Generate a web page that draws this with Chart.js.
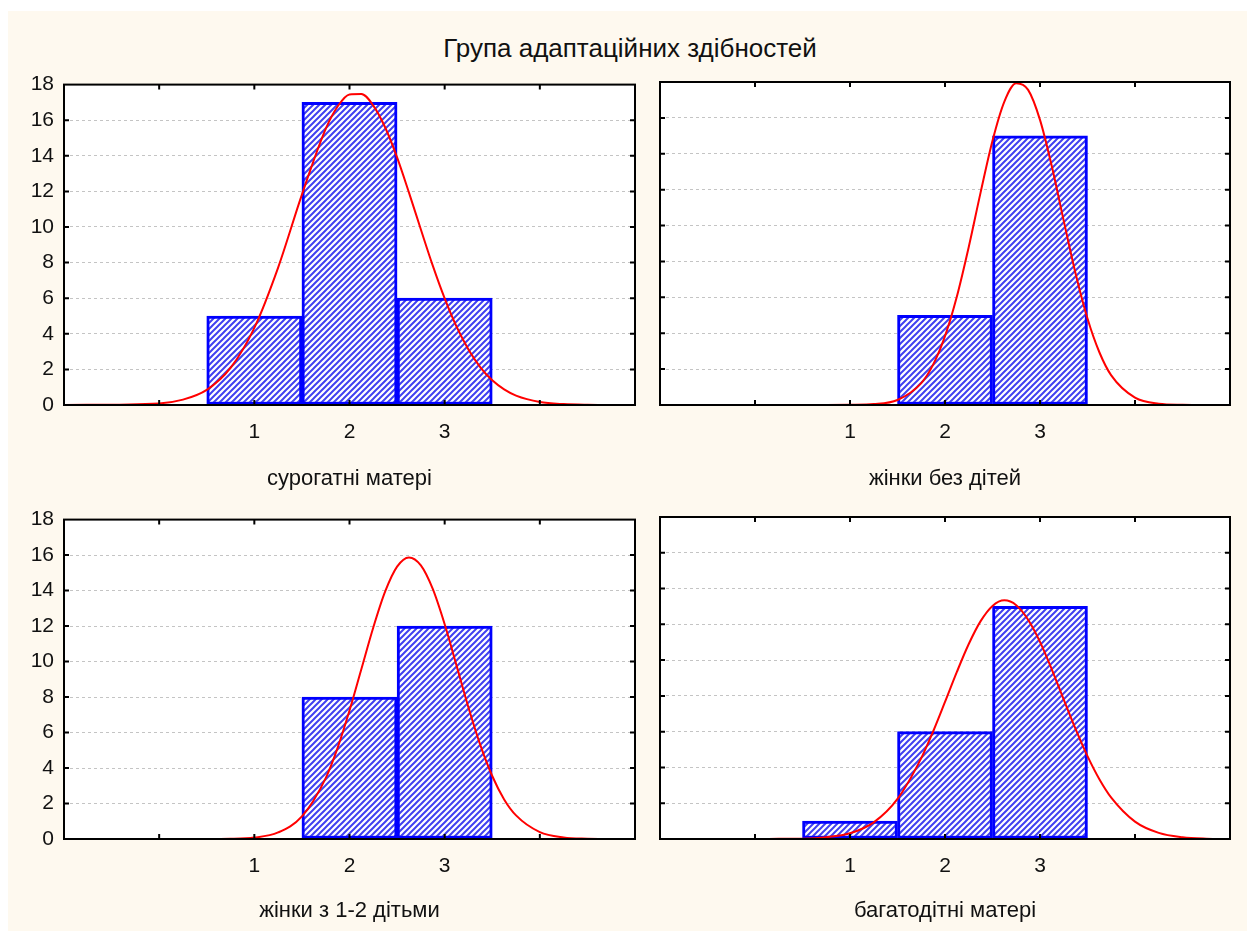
<!DOCTYPE html>
<html>
<head>
<meta charset="utf-8">
<script src="https://cdn.jsdelivr.net/npm/chart.js@4/dist/chart.umd.min.js"></script>
<style>
  html, body { margin: 0; padding: 0; background: #fff; overflow: hidden; }
  #bg { position: absolute; left: 8px; top: 11px; width: 1239px; height: 920px; background: #fef9ef; }
  #title { position: absolute; left: 130px; top: 33px; width: 1000px; text-align: center; line-height: 30px;
           font-size: 26px; font-family: "Liberation Sans", Arial, sans-serif; color: #111; }
  canvas { position: absolute; }
</style>
</head>
<body>
<div id="bg"></div>
<div id="title">Група адаптаційних здібностей</div>
<canvas id="p1" width="640" height="435" style="left:8px;top:62px"></canvas>
<canvas id="p2" width="599" height="435" style="left:648px;top:62px"></canvas>
<canvas id="p3" width="640" height="434" style="left:8px;top:497px"></canvas>
<canvas id="p4" width="599" height="434" style="left:648px;top:497px"></canvas>
<script>
// bins of the histogram
const binCenters = [1, 2, 3];
const countsSurrogate = [5, 17, 6];
const countsNoChildren = [null, 5, 15];
const countsOneTwo = [null, 8, 12];
const countsLarge = [1, 6, 13];

// fitted normal curves
const curveX = [-1, 0, 0.25, 0.5, 0.75, 1, 1.25, 1.5, 1.75, 1.875, 2, 2.125, 2.25, 2.375, 2.5,
  2.625, 2.75, 2.875, 3, 3.125, 3.25, 3.375, 3.5, 3.625, 3.75, 4, 4.25, 4.5, 4.75, 5];
const curveSurrogate = [0, 0.09, 0.30, 0.85, 2.08, 4.33, 7.72, 11.82, 15.51, 16.77, 17.45, 17.47, 16.82, 15.59, 13.91,
  11.93, 9.86, 7.83, 5.99, 4.40, 3.12, 2.12, 1.39, 0.88, 0.53, 0.17, 0.05, 0.01, 0, 0];
const curveNoChildren = [0, 0, 0, 0, 0, 0.01, 0.05, 0.28, 1.22, 2.25, 3.84, 6.05, 8.81, 11.85, 14.73,
  16.91, 17.93, 17.56, 15.89, 13.29, 10.26, 7.32, 4.82, 2.94, 1.65, 0.41, 0.07, 0.01, 0, 0];
const curveOneTwo = [0, 0, 0, 0, 0.01, 0.08, 0.37, 1.27, 3.43, 5.14, 7.24, 9.58, 11.92, 13.95, 15.35,
  15.87, 15.42, 14.09, 12.10, 9.77, 7.41, 5.29, 3.55, 2.23, 1.33, 0.39, 0.09, 0.02, 0, 0];
const curveLarge = [0, 0, 0.01, 0.02, 0.10, 0.32, 0.93, 2.24, 4.52, 6.01, 7.66, 9.34, 10.90, 12.18, 13.03,
  13.34, 13.07, 12.26, 11.02, 9.47, 7.79, 6.14, 4.63, 3.34, 2.31, 0.97, 0.34, 0.10, 0.02, 0];

const xLabels = [1, 2, 3];
const yMax = 18;

const FONT = '"Liberation Sans", Arial, sans-serif';

function hatch() {
  const c = document.createElement('canvas');
  c.width = 6; c.height = 6;
  const g = c.getContext('2d');
  g.fillStyle = '#ffffff';
  g.fillRect(0, 0, 6, 6);
  g.strokeStyle = '#4040f0';
  g.lineWidth = 2;
  g.beginPath();
  g.moveTo(-1, 7); g.lineTo(7, -1);
  g.moveTo(-4, 4); g.lineTo(4, -4);
  g.moveTo(2, 10); g.lineTo(10, 2);
  g.stroke();
  return g.createPattern(c, 'repeat');
}

const framePlugin = {
  id: 'frame',
  beforeDraw(chart) {
    const { ctx, chartArea: a } = chart;
    ctx.save();
    ctx.fillStyle = '#ffffff';
    ctx.fillRect(a.left, a.top, a.right - a.left, a.bottom - a.top);
    ctx.restore();
  },
  afterDraw(chart) {
    const { ctx, chartArea: a, scales } = chart;
    ctx.save();
    ctx.strokeStyle = '#000';
    ctx.lineWidth = 2;
    ctx.strokeRect(a.left, a.top, a.right - a.left, a.bottom - a.top);
    ctx.beginPath();
    scales.x.ticks.forEach(t => {
      if (t.value <= scales.x.min || t.value >= scales.x.max) return;
      const px = scales.x.getPixelForValue(t.value);
      ctx.moveTo(px, a.top); ctx.lineTo(px, a.top + 5);
      ctx.moveTo(px, a.bottom); ctx.lineTo(px, a.bottom - 5);
    });
    scales.y.ticks.forEach(t => {
      if (t.value <= scales.y.min || t.value >= scales.y.max) return;
      const py = scales.y.getPixelForValue(t.value);
      ctx.moveTo(a.left, py); ctx.lineTo(a.left + 5, py);
      ctx.moveTo(a.right, py); ctx.lineTo(a.right - 5, py);
    });
    ctx.stroke();
    ctx.restore();
  }
};

function panel(id, counts, curve, title, showY, rightPad, titlePad) {
  const pattern = hatch();
  return new Chart(document.getElementById(id), {
    type: 'bar',
    data: {
      datasets: [
        {
          type: 'line',
          order: 0,
          data: curveX.map((x, i) => ({ x: x, y: curve[i] })),
          borderColor: '#ff0000',
          borderWidth: 2,
          pointRadius: 0,
          cubicInterpolationMode: 'monotone',
          fill: false
        },
        {
          type: 'bar',
          order: 1,
          data: binCenters.map((x, i) => ({ x: x, y: counts[i] })),
          backgroundColor: pattern,
          borderColor: '#0000ff',
          borderWidth: 3,
          borderSkipped: false,
          barPercentage: 1,
          categoryPercentage: 1
        }
      ]
    },
    options: {
      responsive: false,
      animation: false,
      events: [],
      layout: { padding: { top: 20, right: rightPad, left: 0, bottom: 0 } },
      plugins: { legend: { display: false }, tooltip: { enabled: false } },
      scales: {
        x: {
          type: 'linear',
          min: -1,
          max: 5,
          offset: false,
          grid: { display: false, drawTicks: false, offset: false },
          border: { display: false },
          ticks: {
            stepSize: 1,
            padding: 11,
            color: '#111',
            font: { family: FONT, size: 21, lineHeight: 1.55 },
            callback: v => xLabels.includes(v) ? String(v) : ''
          },
          title: {
            display: true,
            text: title,
            color: '#111',
            font: { family: FONT, size: 22 },
            padding: { top: 0, bottom: titlePad }
          },
          afterFit: s => { s.height = 92; }
        },
        y: {
          min: 0,
          max: yMax,
          grid: { color: '#c4c4c4', lineWidth: 1, drawTicks: false },
          border: { display: false, dash: [3, 3] },
          ticks: {
            display: showY,
            stepSize: 2,
            padding: 10,
            color: '#111',
            font: { family: FONT, size: 21 }
          },
          afterFit: s => { s.width = showY ? 56 : 12; }
        }
      }
    },
    plugins: [framePlugin]
  });
}

panel('p1', countsSurrogate, curveSurrogate, 'сурогатні матері', true, 13, 5);
panel('p2', countsNoChildren, curveNoChildren, 'жінки без дітей', false, 17, 5);
panel('p3', countsOneTwo, curveOneTwo, 'жінки з 1-2 дітьми', true, 13, 7);
panel('p4', countsLarge, curveLarge, 'багатодітні матері', false, 17, 7);
</script>
</body>
</html>
